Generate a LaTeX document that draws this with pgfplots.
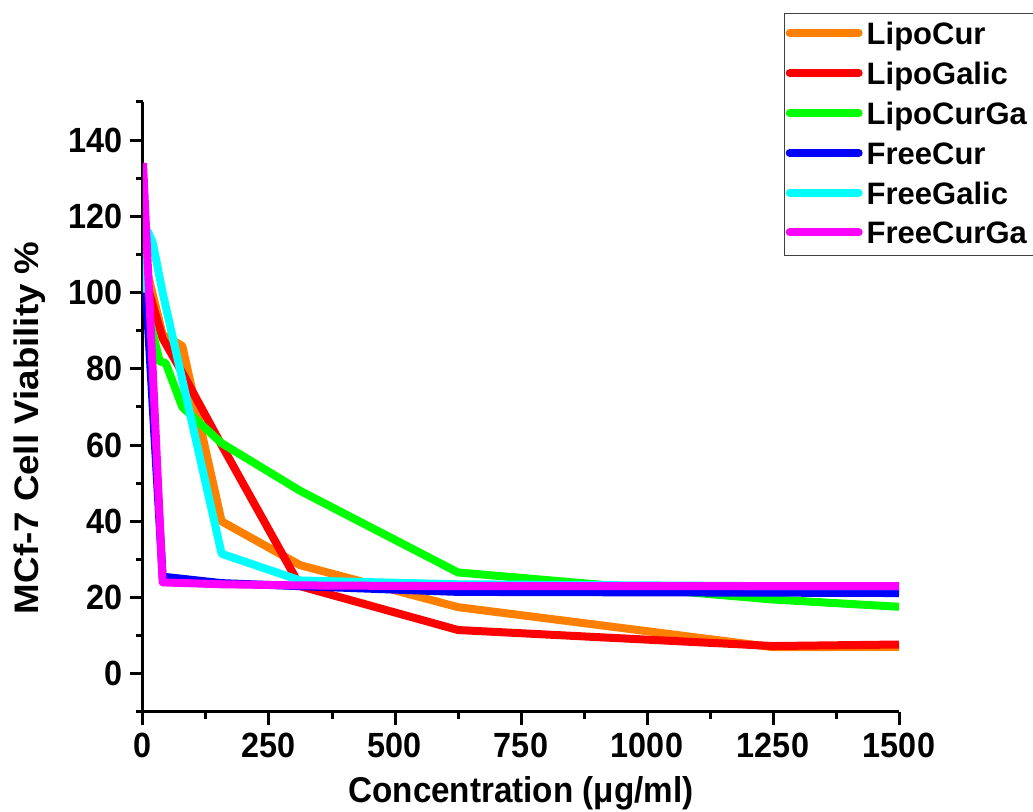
\documentclass[border=0pt]{standalone}
\usepackage{fontspec}
\setmainfont{Liberation Sans}
\usepackage{pgfplots}
\pgfplotsset{compat=1.18}

\definecolor{cOrange}{RGB}{255,128,0}
\definecolor{cRed}{RGB}{255,0,0}
\definecolor{cGreen}{RGB}{0,255,0}
\definecolor{cBlue}{RGB}{0,0,255}
\definecolor{cCyan}{RGB}{0,255,255}
\definecolor{cMagenta}{RGB}{255,0,255}

% legend cells run past the right edge, as in the source figure
\newcommand{\legcell}[1]{\makebox[120pt][l]{#1}}

\begin{document}
\begin{tikzpicture}
  \begin{axis}[
      scale only axis, width=378pt, height=305pt,
      xmin=0, xmax=1500, ymin=-10, ymax=150,
      axis lines=left, axis line style={-, line width=1.5pt},
      xtick={0,250,...,1500}, minor xtick={125,375,...,1375},
      ytick={0,20,...,140}, minor ytick={-10,10,...,150},
      tick align=outside, major tick length=6.5pt, minor tick length=3.5pt,
      every tick/.style={black, line width=1.5pt},
      /pgf/number format/assume math mode=true,
      /pgf/number format/1000 sep={},
      tick label style={font=\fontsize{16.2}{19}\selectfont\bfseries, yscale=1.08},
      xlabel={Concentration (μg/ml)},
      ylabel={MCf-7 Cell Viability \%},
      xlabel style={font=\fontsize{16.6}{20}\selectfont\bfseries,
        at={(axis description cs:0.5,0)}, anchor=base, yshift=-45.5pt, yscale=1.08},
      ylabel style={font=\fontsize{17}{20}\selectfont\bfseries,
        at={(axis description cs:-0.150,0.466)}, anchor=center, xscale=1.08},
      legend style={at={(0.848,1.146)}, anchor=north west,
        draw=black!75, line width=0.6pt, inner xsep=0.5pt, inner ysep=2.3pt,
        row sep=3.35pt, font=\fontsize{15.5}{18}\selectfont\bfseries,
        nodes={inner sep=2pt}, cells={anchor=west}},
      legend image code/.code={\draw[#1, line width=4pt, line cap=round] (2pt,1pt) -- (36.5pt,1pt);},
      every axis plot/.append style={line width=4pt, line join=round},
    ]
    \addplot[cOrange] coordinates {(0,110) (39,89) (78,86) (156,40) (312,28.5) (625,17.5) (1250,7) (1500,7.1)};
    \addlegendentry{\legcell{LipoCur}}
    \addplot[cRed] coordinates {(0,105.5) (39,88) (78,79) (156,60) (312,23) (625,11.5) (1250,7.3) (1500,7.7)};
    \addlegendentry{\legcell{LipoGalic}}
    \addplot[cGreen] coordinates {(0,100) (33,82) (45,81.5) (78,70) (156,60.5) (312,48) (625,26.6) (1250,19.5) (1500,17.6)};
    \addlegendentry{\legcell{LipoCurGa}}
    \addplot[cBlue] coordinates {(0,114) (39,25.5) (156,23.8) (312,23) (625,21.5) (1250,21.3) (1500,21.2)};
    \addlegendentry{\legcell{FreeCur}}
    \addplot[cCyan] coordinates {(0,100) (9.75,116) (19.5,113) (39,100) (156,31.5) (312,24.5) (625,23.5) (1250,23) (1500,23)};
    \addlegendentry{\legcell{FreeGalic}}
    \addplot[cMagenta] coordinates {(0,134) (39,24) (156,23.5) (312,23.2) (625,23) (1250,23) (1500,23)};
    \addlegendentry{\legcell{FreeCurGa}}
  \end{axis}
  \pgfresetboundingbox
  \useasboundingbox (-71.5pt,-50pt) rectangle (445pt,356pt);
\end{tikzpicture}
\end{document}
